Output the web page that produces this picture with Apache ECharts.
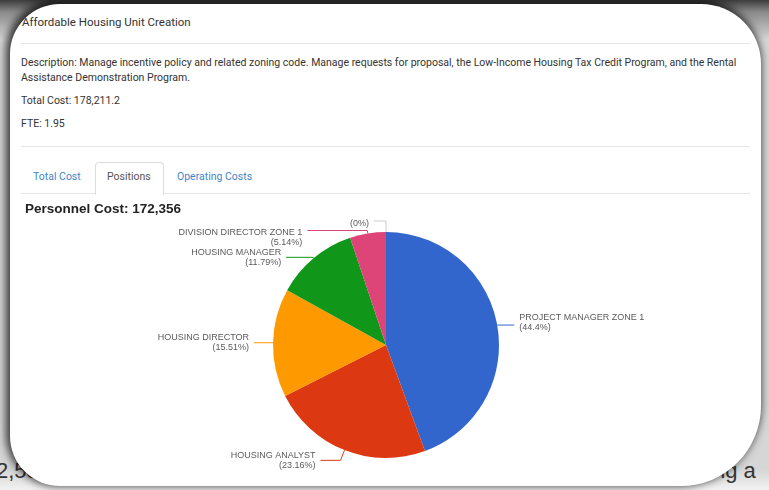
<!DOCTYPE html>
<html>
<head>
<meta charset="utf-8">
<script src="https://cdn.jsdelivr.net/npm/echarts@6/dist/echarts.min.js"></script>
<style>
  html, body { margin: 0; padding: 0; }
  body { width: 769px; height: 490px; overflow: hidden; position: relative;
         background: linear-gradient(to bottom, #3c3c3c 0px, #8a8a8a 12px, #d6d6d6 40px, #d6d6d6 470px, #f2f2f2 490px);
         font-family: Roboto, "Liberation Sans", sans-serif; }
  .frag { position: absolute; font-family: "Liberation Sans", Arial, sans-serif; color: #333; font-size: 22px; }
  .card { position: absolute; left: 10px; top: 4px; width: 751px; height: 482px; background: #fff;
          border-radius: 50px 60px 80px 50px; box-shadow: -2px -2px 9px 2px rgba(0,0,0,0.75); overflow: hidden; }
  .abs { position: absolute; white-space: nowrap; }
  .title { left: 12px; top: 11px; font-size: 11.5px; color: #333; }
  .hr { position: absolute; left: 11px; width: 729px; height: 1px; background: #e6e6e6; }
  .txt { left: 11px; font-size: 10.5px; color: #333; line-height: 15px; }
  .tab { top: 166px; font-size: 10.5px; color: #3f86c9; }
  .tabbox { position: absolute; left: 85px; top: 158px; width: 67px; height: 32px; border: 1px solid #ddd;
            border-bottom: none; border-radius: 4px 4px 0 0; background: #fff; }
  #chart { position: absolute; left: 0; top: 196px; width: 769px; height: 294px; }
</style>
</head>
<body>
<div class="frag" style="left:-4px; top:458px;">2,589</div>
<div class="frag" style="left:702px; top:458px;">ting a</div>
<div class="card">
  <div class="abs title">Affordable Housing Unit Creation</div>
  <div class="hr" style="top:39px"></div>
  <div class="abs txt" style="top:51px">Description: Manage incentive policy and related zoning code. Manage requests for proposal, the Low-Income Housing Tax Credit Program, and the Rental<br>Assistance Demonstration Program.</div>
  <div class="abs txt" style="top:89px">Total Cost: 178,211.2</div>
  <div class="abs txt" style="top:112px">FTE: 1.95</div>
  <div class="hr" style="top:142px"></div>
  <div class="hr" style="top:189px"></div>
  <div class="tabbox"></div>
  <div class="abs tab" style="left:23px">Total Cost</div>
  <div class="abs tab" style="left:97px; color:#555">Positions</div>
  <div class="abs tab" style="left:167px">Operating Costs</div>
</div>
<div id="chart"></div>
<script>
const chartTitle = 'Personnel Cost: 172,356';
const positions = ['PROJECT MANAGER ZONE 1', 'HOUSING ANALYST', 'HOUSING DIRECTOR', 'HOUSING MANAGER', 'DIVISION DIRECTOR ZONE 1', ''];
const costs = [76526, 39918, 26732, 20321, 8859, 0];
const colors = ['#3366cc', '#dc3912', '#ff9900', '#109618', '#dd4477', '#990099'];
// label leader-line styling per slice (lengths and small text nudges only)
const leaderLen = [1, 11, 1, 1, 3, 11];
const leaderLen2 = [16, 20, 18, 27, 60, 12];
const labelNudgeY = [-3, 0, 0, 0, 7, 3];

const chart = echarts.init(document.getElementById('chart'), null, { renderer: 'canvas' });
const data = positions.map((n, i) => ({
  name: n, value: costs[i],
  itemStyle: { color: colors[i] },
  labelLine: { length: leaderLen[i], length2: leaderLen2[i],
               lineStyle: { color: n === '' ? '#cccccc' : colors[i] } }
}));
chart.setOption({
  animation: false,
  title: { text: chartTitle, left: 20, top: 1,
           textStyle: { fontFamily: 'Liberation Sans, Arial, sans-serif', fontSize: 13.5, fontWeight: 'bold', color: '#222' } },
  series: [{
    type: 'pie',
    center: [386, 149],
    radius: 113,
    startAngle: 90,
    clockwise: true,
    avoidLabelOverlap: false,
    stillShowZeroSum: true,
    data: data,
    label: {
      show: true, position: 'outside',
      fontFamily: 'Liberation Sans, Arial, sans-serif', fontSize: 9, color: '#5a5a5a', lineHeight: 10,
      formatter: p => p.name === '' ? '(' + p.percent + '%)' : p.name + '\n(' + p.percent + '%)'
    },
    labelLayout: p => ({ dy: labelNudgeY[p.dataIndex] }),
    labelLine: { show: true, lineStyle: { width: 1 } }
  }]
});
</script>
</body>
</html>
